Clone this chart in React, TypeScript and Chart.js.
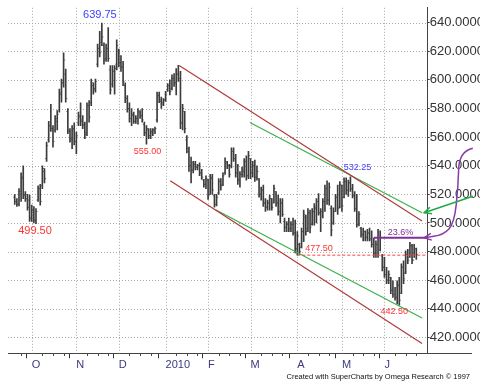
import React, { useEffect, useRef } from 'react';
import { Chart, registerables } from 'chart.js';
Chart.register(...registerables);

// ---- daily OHLC (index = trading day from late Sep 2009) ----
const lows = [
  513, 511.5, 512, 515, 517, 515, 509, 501, 501, 500,
  499.5, 515, 512.5, 524, 528, 543, 556.5, 564, 553, 563.5,
  565, 577.5, 584.5, 595, 584.5, 562.5, 556.5, 552, 554.5, 548.5,
  568, 568, 566, 559, 561, 570.5, 582, 590, 591.5, 609,
  616, 624, 611, 613, 613, 590, 595, 590, 607, 609,
  606, 596, 584, 577.5, 570.5, 568, 569.5, 569.5, 569, 573,
  570.5, 561, 555, 559, 559, 561, 562.5, 570.5, 584, 580,
  582, 585, 592, 589.5, 593, 595.5, 589.5, 599, 566, 565,
  563, 549, 536, 528, 535, 537, 537, 533, 530.5, 525,
  524, 516.5, 520, 520, 511, 512, 520, 523, 526, 534,
  538, 532, 538.5, 543, 532, 527, 525, 532, 532, 530,
  531, 531, 532, 529, 530, 518, 516, 511.5, 508, 509,
  509, 509, 514, 511.5, 505.5, 500, 504.5, 494, 494, 494,
  494, 491.5, 479, 477.5, 478, 482.5, 487, 491.5, 494, 493,
  498.5, 498.5, 500, 505.5, 494, 503.5, 508, 513, 512.5, 491,
  499, 508, 506, 510.5, 508, 517.5, 520, 518.5, 522, 517.5,
  508, 497, 498, 490, 487.5, 487.5, 487.5, 487.5, 483, 476,
  476, 476, 480.5, 466.5, 462, 457.5, 457.5, 450.5, 448, 446,
  443.5, 442.5, 450.5, 457.5, 464.5, 471.5, 476, 471.5, 476, 474.5,
];
const highs = [
  520, 517, 524, 535, 540, 522, 520, 519.5, 512.5, 511.5,
  510, 526, 527, 540, 538, 556.5, 571, 583, 568, 575,
  578.5, 593.5, 600.5, 619, 607.5, 580, 566, 568, 570, 563.5,
  577.5, 584, 575, 570.5, 584, 585.5, 600.5, 598, 600.5, 625,
  634, 639.75, 626, 625, 636.5, 610, 610, 610, 628, 621.5,
  617, 613, 598, 589, 584, 580, 577.5, 575, 580, 578.5,
  580, 570.5, 568, 566, 566, 566, 567, 591.5, 591.5, 588,
  587, 592, 597.5, 600, 603.5, 604.5, 608, 610.25, 606, 583,
  578, 561, 553, 546, 543, 543, 541, 542, 537.5, 530.5,
  533, 530.5, 534, 534, 520, 520, 531, 531, 535, 545.5,
  543, 541, 552.5, 552.5, 548, 541, 536, 539, 545, 547,
  550, 545, 543, 544, 540, 531, 525, 526.5, 517, 516,
  519.5, 517, 526.5, 522, 519.5, 517, 517, 503.5, 501, 503.5,
  501, 503.5, 502, 494, 486, 496.5, 509, 505.5, 510, 509,
  510, 513.5, 517, 520.5, 510, 517, 526.5, 529.5, 528, 512,
  510.5, 520, 526.5, 529, 526.5, 531.5, 531.5, 530, 532.25, 527,
  522, 520, 508, 497, 496.5, 494.5, 495.5, 496.5, 494.5, 489.5,
  487.5, 495.5, 494.5, 478, 476, 469, 466.5, 462, 459.5, 455,
  459.5, 462, 471.5, 473.5, 480.5, 481.5, 486.5, 485, 485, 482.5,
];
const opens = [
  518, 515, 513, 520, 532, 520, 517, 516, 504, 509,
  502, 516, 524, 526, 536, 545, 558, 568, 566, 565,
  571, 579, 590, 598, 604, 578, 564, 558, 566, 557,
  570, 574, 572, 568, 563, 582, 584, 596, 594, 611,
  622, 626, 624, 615, 622, 607, 597, 606, 611, 620,
  612, 609, 596, 587, 580, 573, 575, 571, 573, 577,
  575, 569, 563, 565, 561, 563, 565, 572, 589, 585,
  584, 586, 593, 596, 594, 601, 598, 604, 601, 570,
  578, 558, 550, 540, 537, 541, 539, 540, 535, 530,
  527, 530, 520, 531, 519, 513, 521, 529, 527, 535,
  542, 540, 540, 550, 545, 535, 530, 534, 536, 543,
  533, 545, 535, 540, 532, 531, 520, 523, 514, 511,
  514, 517, 514, 522, 514, 508, 514, 501, 497, 499,
  496, 499, 493, 482, 485, 483, 494, 504, 496, 507,
  499, 508, 510, 515, 507, 508, 515, 524, 516, 510,
  500, 508, 518, 511, 526, 518, 529, 523, 528, 524,
  519, 510, 499, 496, 492, 494, 490, 493, 489, 485,
  479, 485, 481, 477, 469, 464, 460, 462, 453, 450,
  448, 456, 451, 469, 465, 478, 476, 484, 474, 482,
];
const closes = [
  515, 513, 522, 531, 519, 517, 511, 503, 509, 502,
  508, 524, 515, 538, 531, 554, 568, 566, 557, 573,
  576, 591, 598, 614, 587, 565, 559, 565, 557, 561,
  575, 571, 569, 562, 582, 574, 598, 593, 599, 622,
  619, 630, 614, 622, 615, 593, 606, 608, 624, 612,
  609, 599, 587, 580, 573, 576, 571, 573, 578, 575,
  572, 563, 566, 561, 564, 565, 566, 589, 586, 583,
  586, 590, 596, 592, 601, 598, 604, 601, 570, 580,
  566, 552, 540, 537, 541, 539, 540, 535, 532, 527,
  531, 519, 532, 523, 513, 518, 529, 526, 533, 543,
  540, 534, 550, 545, 535, 530, 534, 537, 543, 533,
  547, 535, 540, 532, 536, 520, 523, 514, 511, 514,
  517, 511, 524, 514, 508, 514, 506, 497, 499, 496,
  499, 493, 482, 491, 480, 494, 506, 494, 507, 497,
  508, 511, 515, 507, 508, 515, 524, 516, 525, 495,
  508, 518, 510, 527, 512, 529, 523, 528, 524, 519,
  510, 499, 506, 492, 494, 490, 493, 489, 485, 479,
  485, 479, 490, 469, 464, 460, 464, 453, 450, 448,
  457, 446, 469, 461, 478, 474, 484, 474, 482, 478,
];

// ---- axis ticks ----
const monthTickIdx = [8, 29, 49, 71, 91, 111, 133, 154, 174];
const monthTickLabels = ['O', 'N', 'D', '2010', 'F', 'M', 'A', 'M', 'J'];
const weekTickIdx = [3, 13, 18, 23, 34, 39, 44, 54, 59, 64, 76, 81, 86, 96, 101, 106, 116, 121, 126, 138, 143, 148, 159, 164, 169, 179, 184, 189];
const yTickValues = [420, 440, 460, 480, 500, 520, 540, 560, 580, 600, 620, 640];

// ---- drawn studies (index, price) ----
const upperRed = [[77.4, 610], [191.7, 501.3]];
const lowerRed = [[73.2, 529.5], [191.7, 415.8]];
const upperGreen = [[110.7, 570.2], [191.7, 507.1]];
const lowerGreen = [[94.5, 509.2], [191.7, 433.6]];
const supportLevel = 477.5;
const supportStartIdx = 133;
const fibLevel = 489.7;
const fibStartIdx = 169;
const fibText = '23.6%';
const priceLabelTexts = ['639.75', '499.50', '555.00', '532.25', '477.50', '442.50'];
const priceLabelIdx = [41, 10, 62, 158, 133, 181];
const priceLabelValues = [639.75, 499.5, 555, 532.25, 477.5, 442.5];
const purpleArrowPath = [[215.6, 552.2], [209.2, 549.9], [208.7, 525.6], [206.9, 500.0], [201.8, 491.6], [192.7, 489.7]];
const greenArrowPath = [[215.6, 518.7], [192.7, 507.1]];
const watermark = 'Created with SuperCharts by Omega Research \u00A9 1997';

const X_MIN = -0.5;
const X_MAX = 191.7;
const Y_MIN = 408.9;
const Y_MAX = 650.4;

const FONT = "'Liberation Sans', Arial, sans-serif";

// label styling (pixel offsets from anchor, colors, sizes)
const labelStyle = [
  { color: '#3c3cff', size: 11, dx: -2, dy: -8, align: 'center' },
  { color: '#ff3333', size: 11, dx: -1, dy: 7, align: 'center' },
  { color: '#ff3333', size: 9, dx: 1, dy: 7.5, align: 'center' },
  { color: '#4040ff', size: 9, dx: 7, dy: -9, align: 'center' },
  { color: '#ff3333', size: 9, dx: 8, dy: -7, align: 'left' },
  { color: '#ff3333', size: 9, dx: -5, dy: 6.5, align: 'center' },
];

function drawArrow(ctx: CanvasRenderingContext2D, pts: number[][], color: string) {
  ctx.save();
  ctx.strokeStyle = color;
  ctx.lineWidth = 1.5;
  ctx.beginPath();
  ctx.moveTo(pts[0][0], pts[0][1]);
  for (let k = 1; k < pts.length - 1; k++) {
    const mx = (pts[k][0] + pts[k + 1][0]) / 2;
    const my = (pts[k][1] + pts[k + 1][1]) / 2;
    ctx.quadraticCurveTo(pts[k][0], pts[k][1], mx, my);
  }
  const last = pts[pts.length - 1];
  ctx.lineTo(last[0], last[1]);
  ctx.stroke();
  const prev = pts[pts.length - 2];
  const ang = Math.atan2(last[1] - prev[1], last[0] - prev[0]);
  const len = 8;
  ctx.beginPath();
  ctx.moveTo(last[0] - len * Math.cos(ang - 0.45), last[1] - len * Math.sin(ang - 0.45));
  ctx.lineTo(last[0], last[1]);
  ctx.lineTo(last[0] - len * Math.cos(ang + 0.45), last[1] - len * Math.sin(ang + 0.45));
  ctx.stroke();
  ctx.restore();
}

const overlayPlugin = {
  id: 'overlay',
  beforeDatasetsDraw(chart: any) {
    // dotted grid lines at the axis ticks
    const { ctx, chartArea } = chart;
    const xs = chart.scales.x;
    const ys = chart.scales.y;
    ctx.save();
    ctx.strokeStyle = '#a8a8a8';
    ctx.lineWidth = 1;
    ctx.setLineDash([1, 2]);
    ctx.beginPath();
    yTickValues.forEach((v) => {
      const yy = Math.round(ys.getPixelForValue(v)) + 0.5;
      ctx.moveTo(chartArea.left, yy);
      ctx.lineTo(chartArea.right, yy);
    });
    monthTickIdx.forEach((v) => {
      const xx = Math.round(xs.getPixelForValue(v)) + 0.5;
      ctx.moveTo(xx, chartArea.top);
      ctx.lineTo(xx, chartArea.bottom);
    });
    ctx.stroke();
    ctx.restore();
  },
  afterDatasetsDraw(chart: any) {
    const { ctx, chartArea } = chart;
    const xs = chart.scales.x;
    const ys = chart.scales.y;
    const px = (v: number) => xs.getPixelForValue(v);
    const py = (v: number) => ys.getPixelForValue(v);
    ctx.save();
    // support dashed line
    ctx.strokeStyle = '#ff4040';
    ctx.lineWidth = 1;
    ctx.setLineDash([3, 2]);
    ctx.beginPath();
    ctx.moveTo(px(supportStartIdx), py(supportLevel));
    ctx.lineTo(chartArea.right, py(supportLevel));
    ctx.stroke();
    ctx.setLineDash([]);
    // fib line
    ctx.strokeStyle = '#80309a';
    ctx.lineWidth = 2;
    ctx.beginPath();
    ctx.moveTo(px(fibStartIdx), py(fibLevel));
    ctx.lineTo(chartArea.right, py(fibLevel));
    ctx.stroke();
    ctx.fillStyle = '#80309a';
    ctx.font = `9px ${FONT}`;
    ctx.textAlign = 'left';
    ctx.textBaseline = 'middle';
    ctx.fillText(fibText, px(fibStartIdx) + 14, py(fibLevel) - 5);
    // price labels
    priceLabelTexts.forEach((t, k) => {
      const st = labelStyle[k];
      ctx.fillStyle = st.color;
      ctx.font = `${st.size}px ${FONT}`;
      ctx.textAlign = st.align;
      ctx.textBaseline = 'middle';
      ctx.fillText(t, px(priceLabelIdx[k]) + st.dx, py(priceLabelValues[k]) + st.dy);
    });
    ctx.restore();
  },
  afterDraw(chart: any) {
    const { ctx, chartArea } = chart;
    const xs = chart.scales.x;
    const ys = chart.scales.y;
    const toPx = (p: number[]) => [xs.getPixelForValue(p[0]), ys.getPixelForValue(p[1])];
    const by = Math.round(chartArea.bottom) + 0.5;
    ctx.save();
    ctx.strokeStyle = '#444';
    ctx.lineWidth = 1;
    ctx.beginPath();
    // bottom axis line continues under the price scale
    ctx.moveTo(chartArea.right, by);
    ctx.lineTo(chart.width - 8, by);
    // short weekly ticks
    weekTickIdx.forEach((v) => {
      const xx = Math.round(xs.getPixelForValue(v)) + 0.5;
      ctx.moveTo(xx, by);
      ctx.lineTo(xx, by + 2.5);
    });
    ctx.stroke();
    ctx.restore();
    drawArrow(ctx, purpleArrowPath.map(toPx), '#8a3aa8');
    drawArrow(ctx, greenArrowPath.map(toPx), '#22aa44');
    ctx.save();
    ctx.fillStyle = '#111';
    ctx.font = `7.5px ${FONT}`;
    ctx.textAlign = 'right';
    ctx.textBaseline = 'middle';
    ctx.fillText(watermark, chart.width - 10, chart.height - 10);
    ctx.restore();
  },
};

export default function App() {
  const ref = useRef<HTMLCanvasElement>(null);
  useEffect(() => {
    const idx = lows.map((_, i) => i);
    const lineDs = (pts: number[][], color: string) => ({
      type: 'line' as const,
      data: pts.map((p) => ({ x: p[0], y: p[1] })),
      borderColor: color,
      borderWidth: 1.2,
      pointRadius: 0,
      fill: false,
    });
    const allXTicks = [...monthTickIdx, ...weekTickIdx].sort((a, b) => a - b);
    const isMonth = (c: any) => !!(c.tick && monthTickIdx.includes(c.tick.value));
    const chart = new Chart(ref.current as HTMLCanvasElement, {
      type: 'bar',
      data: {
        datasets: [
          lineDs(upperRed, '#b03a3a'),
          lineDs(lowerRed, '#b03a3a'),
          lineDs(upperGreen, '#3cb04a'),
          lineDs(lowerGreen, '#3cb04a'),
          {
            type: 'bar',
            data: idx.map((i) => ({ x: i, y: [lows[i], highs[i]] })),
            backgroundColor: '#3c3c3c',
            barThickness: 1,
            borderWidth: 0,
          },
          {
            type: 'line',
            data: idx.map((i) => ({ x: i, y: opens[i] })),
            showLine: false,
            pointStyle: 'dash',
            pointRotation: 180,
            pointRadius: 1.6,
            pointBorderColor: '#7a7a7a',
            pointBorderWidth: 1,
          },
          {
            type: 'line',
            data: idx.map((i) => ({ x: i, y: closes[i] })),
            showLine: false,
            pointStyle: 'dash',
            pointRotation: 0,
            pointRadius: 1.6,
            pointBorderColor: '#7a7a7a',
            pointBorderWidth: 1,
          },
        ] as any,
      },
      options: {
        animation: false,
        responsive: false,
        events: [],
        layout: { padding: { left: 8, top: 5, right: 0, bottom: 0 } },
        plugins: { legend: { display: false }, tooltip: { enabled: false } },
        scales: {
          x: {
            type: 'linear',
            min: X_MIN,
            max: X_MAX,
            position: 'bottom',
            afterBuildTicks: (s: any) => {
              s.ticks = allXTicks.map((v) => ({ value: v }));
            },
            afterFit: (s: any) => {
              s.height = 33.7;
            },
            grid: {
              drawOnChartArea: false,
              color: '#333',
              tickColor: (c: any) => (isMonth(c) ? '#333' : 'rgba(0,0,0,0)'),
              tickLength: 5,
              lineWidth: 1,
            },
            border: { display: true, color: '#444', width: 1 },
            ticks: {
              autoSkip: false,
              maxRotation: 0,
              minRotation: 0,
              align: 'start',
              padding: 0,
              color: '#3a3a80',
              font: { family: FONT, size: 11 },
              callback: (v: any) => {
                const k = monthTickIdx.indexOf(Number(v));
                return k >= 0 ? monthTickLabels[k] : '';
              },
            },
          },
          y: {
            type: 'linear',
            position: 'right',
            min: Y_MIN,
            max: Y_MAX,
            afterBuildTicks: (s: any) => {
              s.ticks = yTickValues.map((v) => ({ value: v }));
            },
            afterFit: (s: any) => {
              s.width = 52.3;
            },
            grid: { drawOnChartArea: false, color: '#333', tickColor: '#333', tickLength: 2, lineWidth: 1 },
            border: { display: true, color: '#444', width: 1 },
            ticks: {
              padding: 0,
              color: '#333',
              font: { family: FONT, size: 13 },
              callback: (v: any) => Number(v).toFixed(4),
            },
          },
        },
      } as any,
      plugins: [overlayPlugin],
    });
    return () => chart.destroy();
  }, []);
  return (
    <div style={{ position: 'fixed', left: 0, top: 0, width: 480, height: 387, background: '#fff' }}>
      <canvas ref={ref} width={480} height={387} style={{ display: 'block', width: 480, height: 387 }} />
    </div>
  );
}
